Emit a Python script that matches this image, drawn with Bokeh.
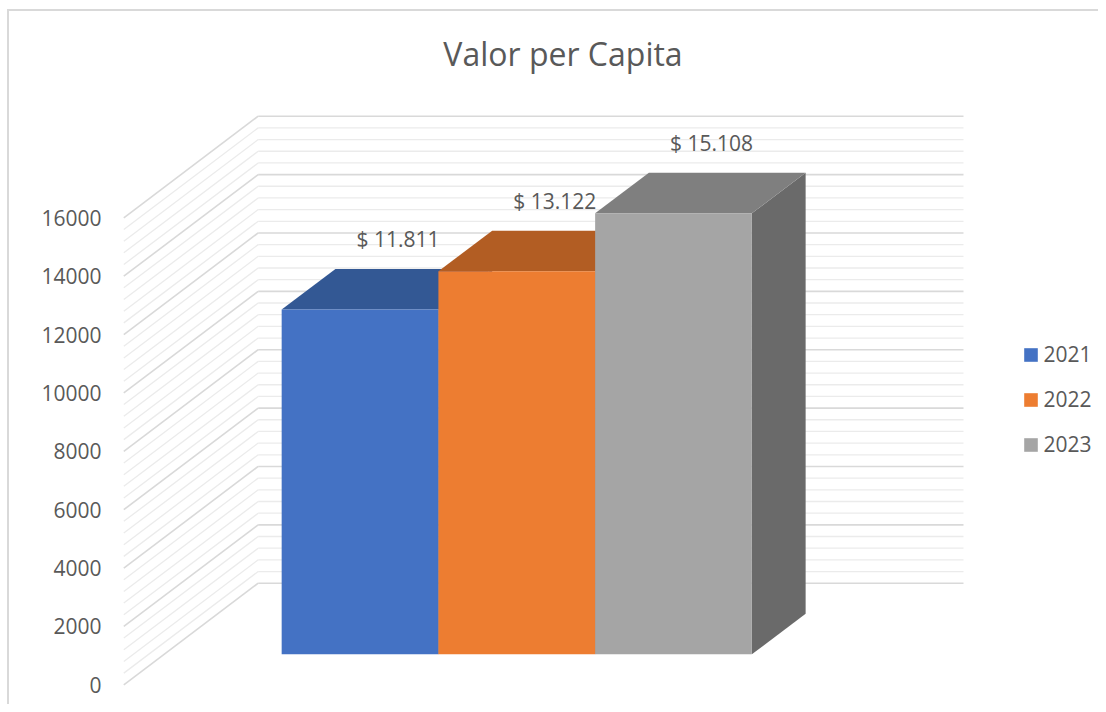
from bokeh.plotting import figure
from bokeh.models import Range1d, FixedTicker, Label, Legend, LegendItem
from bokeh.core.properties import value
from bokeh.embed import file_html
from bokeh.resources import INLINE
import numpy as np

# ---- data ----
title_text = "Valor per Capita"
years = ["2021", "2022", "2023"]
values = [11811, 13122, 15108]
axis_ticks = [0, 2000, 4000, 6000, 8000, 10000, 12000, 14000, 16000]
minor_step = 400

front_colors = ["#4472C4", "#ED7D31", "#A5A5A5"]
top_colors = ["#335894", "#B25D23", "#7F7F7F"]
side_colors = ["#2F5597", "#C55A11", "#6A6A6A"]

FONT = "Open Sans"
TXT = "#595959"

# ---- layout / projection constants (pixels) ----
W, H = 1098, 704
LEFT = 110
K = 467.0 / 16000.0            # px per value unit (vertical)
Y0 = 684.3                      # canvas y of value 0 at the front plane
FLOOR_X0, FLOOR_X1 = 123.3, 828.6
DEPTH_DX = 134.4
DEPTH_DY = 101.6 / K            # in value units
GAP = 1.5                       # gap width / gap depth (150%)

x_range = Range1d(LEFT, W)
y_range = Range1d(-(H - Y0) / K, Y0 / K)

p = figure(width=W, height=H, x_range=x_range, y_range=y_range,
           output_backend="svg", toolbar_location=None, x_axis_type=None,
           min_border_left=LEFT, min_border_right=0, min_border_top=0,
           min_border_bottom=0, outline_line_color=None,
           background_fill_color=None, border_fill_color=None)
p.styles = {
    "background": "linear-gradient(#d9d9d9, #d9d9d9) 7px 9px / 2px calc(100% - 9px) no-repeat, "
                  "linear-gradient(#d9d9d9, #d9d9d9) 7px 9px / calc(100% - 7px) 2px no-repeat, white"
}
p.xgrid.visible = False
p.ygrid.visible = False

ax = p.yaxis[0]
ax.ticker = FixedTicker(ticks=axis_ticks)
ax.axis_line_color = None
ax.major_tick_line_color = None
ax.minor_tick_line_color = None
ax.major_tick_out = 0
ax.major_label_standoff = 9
ax.major_label_text_font = FONT
ax.major_label_text_font_size = "21px"
ax.major_label_text_color = TXT


def proj(x, v, d):
    return x + d * DEPTH_DX, v + d * DEPTH_DY


# ---- walls (left side wall + back wall) ----
levels = np.arange(0, axis_ticks[-1] + 1, minor_step)
for is_major in (False, True):
    lv = np.array([v for v in levels if (v % 2000 == 0) == is_major], dtype=float)
    col = "#d9d9d9" if is_major else "#ebebeb"
    lw = 1.6 if is_major else 1.3
    xa, ya = proj(FLOOR_X0, lv, 0.0)
    xb, yb = proj(FLOOR_X0, lv, 1.0)
    xc, yc = proj(FLOOR_X1, lv, 1.0)
    p.segment(x0=xa, y0=ya, x1=xb, y1=yb, line_color=col, line_width=lw)
    p.segment(x0=xb, y0=yb, x1=xc, y1=yc, line_color=col, line_width=lw)

# ---- bars ----
n = len(values)
bw = (FLOOR_X1 - FLOOR_X0) / (n + GAP)
d0 = (GAP / 2) / (1 + GAP)
d1 = (GAP / 2 + 1) / (1 + GAP)

items = []
label_x, label_y, label_txt = [], [], []
for i, (yr, v) in enumerate(zip(years, values)):
    xl = FLOOR_X0 + bw * GAP / 2 + i * bw
    xr = xl + bw
    # side face
    s = [proj(xr, 0, d0), proj(xr, v, d0), proj(xr, v, d1), proj(xr, 0, d1)]
    p.patch([c[0] for c in s], [c[1] for c in s], fill_color=side_colors[i], line_color=None)
    # top face
    t = [proj(xl, v, d0), proj(xr, v, d0), proj(xr, v, d1), proj(xl, v, d1)]
    p.patch([c[0] for c in t], [c[1] for c in t], fill_color=top_colors[i], line_color=None)
    # front face
    fl, fb = proj(xl, 0, d0)
    fr, ft = proj(xr, v, d0)
    r = p.quad(left=[fl], right=[fr], bottom=[fb], top=[ft],
               fill_color=front_colors[i], line_color=None)
    items.append(LegendItem(label=yr, renderers=[r]))
    label_x.append((fl + fr) / 2 + 38)
    label_y.append(proj(xl, v, d1)[1] + 30 / K)
    label_txt.append("$ " + f"{v:,}".replace(",", "."))

p.text(x=label_x, y=label_y, text=label_txt, text_font=value(FONT),
       text_font_size="21px", text_color=TXT, text_align="center",
       text_baseline="middle")

# ---- title ----
p.add_layout(Label(x=562.5, y=(Y0 - 53) / K, text=title_text,
                   text_font=FONT, text_font_size="32px", text_color=TXT,
                   text_align="center", text_baseline="middle"))

# ---- legend ----
legend = Legend(items=items, location=(911.6, 246), orientation="vertical",
                glyph_width=17, glyph_height=17, label_height=21, spacing=17,
                padding=0, margin=0, border_line_color=None,
                background_fill_alpha=0, label_text_font=FONT,
                label_text_font_size="21px", label_text_color=TXT,
                label_standoff=5)
p.add_layout(legend)

open("out.html", "w").write(file_html(p, INLINE))
